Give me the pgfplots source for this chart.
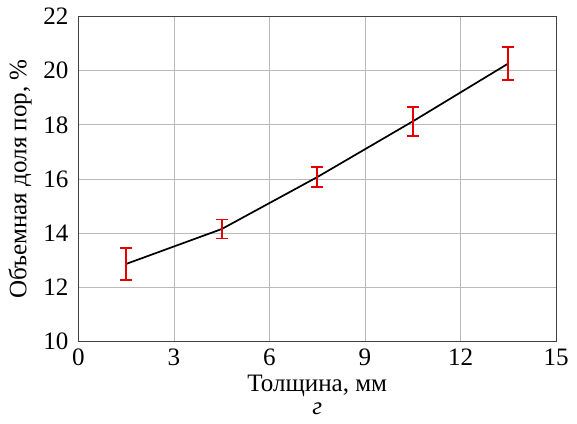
\documentclass[border=0pt]{standalone}
\usepackage{fontspec}
\setmainfont{Liberation Serif}
\usepackage{pgfplots}
\pgfplotsset{compat=1.18}
\begin{document}
\fontsize{19}{21}\selectfont
\begin{tikzpicture}
\begin{axis}[
    scale only axis,
    width=362pt, height=246pt,
    xmin=0, xmax=15, ymin=10, ymax=22,
    xtick={0,3,...,15}, ytick={10,12,...,22},
    grid=major,
    grid style={gray!55, line width=0.6pt},
    axis line style={black!75, line width=0.8pt},
    major tick length=0pt,
    /pgf/number format/assume math mode=true,
    ticklabel style={font=\fontsize{19}{21}\selectfont},
    xticklabel style={yshift=1pt},
    yticklabel style={xshift=-1pt},
    xlabel={Толщина, мм\\[1pt]\textit{г}},
    xlabel style={align=center, yshift=6pt, font=\fontsize{19}{17}\selectfont},
    ylabel={Объемная доля пор, \%},
    ylabel style={yshift=-4pt, font=\fontsize{19}{21}\selectfont},
]
\addplot[black, line width=1.3pt,
    error bars/.cd, y dir=both, y explicit,
    error bar style={red!90!black, line width=1.3pt},
    error mark options={red!90!black, rotate=90, mark size=4.5pt, line width=1.3pt},
] coordinates {
    (1.5,12.86) +- (0,0.6)
    (4.5,14.15) +- (0,0.35)
    (7.5,16.07) +- (0,0.37)
    (10.5,18.13) +- (0,0.53)
    (13.5,20.27) +- (0,0.6)
};
\end{axis}
\end{tikzpicture}
\end{document}
